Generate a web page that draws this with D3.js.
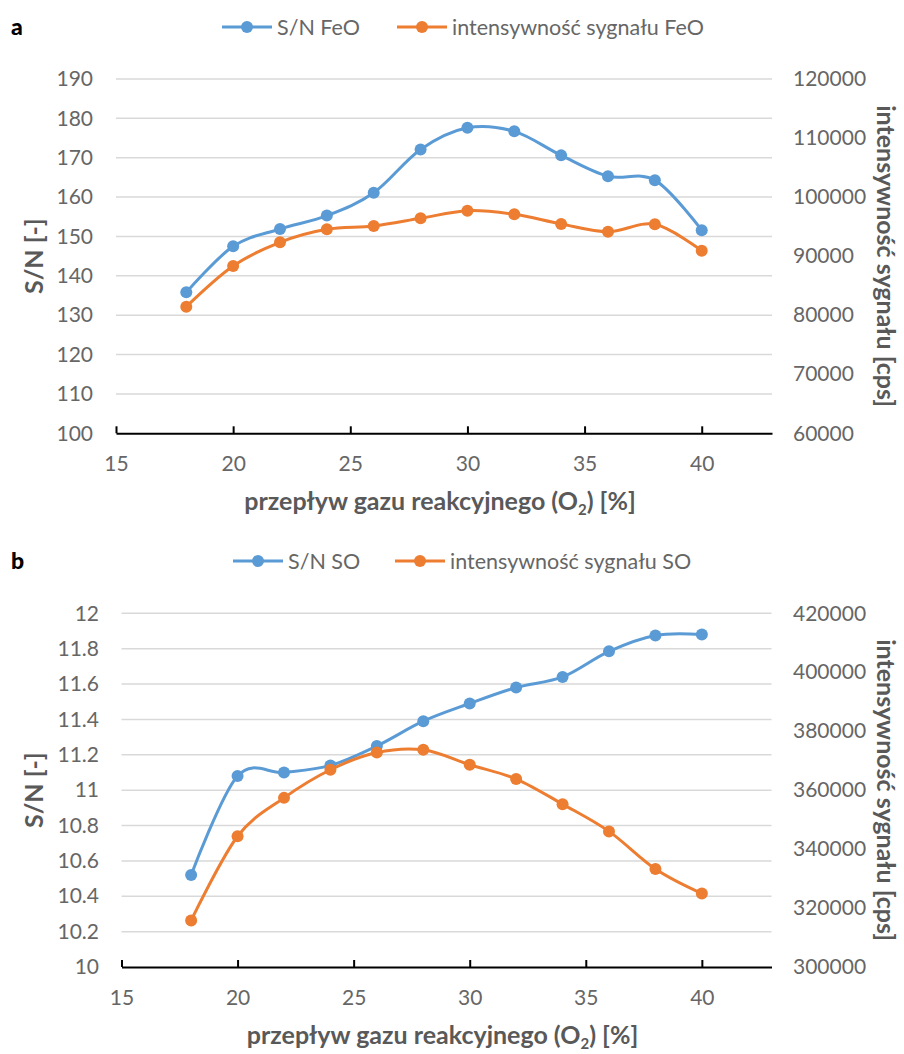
<!DOCTYPE html>
<html>
<head>
<meta charset="utf-8">
<script src="https://cdn.jsdelivr.net/npm/d3@7"></script>
<style>
  html, body { margin: 0; padding: 0; background: #fff; }
  svg { display: block; font-family: Lato, "Liberation Sans", sans-serif; }
</style>
</head>
<body>
<svg id="chart" width="904" height="1054"></svg>
<script>
// ---- data ----
const o2Flow = [18, 20, 22, 24, 26, 28, 30, 32, 34, 36, 38, 40];

const snFeO  = [135.8, 147.5, 151.9, 155.3, 161.1, 172.1, 177.6, 176.7, 170.6, 165.3, 164.3, 151.6];
const intFeO = [81440, 88330, 92350, 94550, 95110, 96410, 97700, 97090, 95450, 94140, 95390, 90930];

const snSO  = [10.52, 11.08, 11.10, 11.14, 11.25, 11.39, 11.49, 11.58, 11.64, 11.785, 11.875, 11.88];
const intSO = [315800, 344350, 357380, 366920, 372770, 373680, 368610, 363770, 355250, 346010, 333220, 324900];

const xTicks = [15, 20, 25, 30, 35, 40];
const leftTicksA  = [100, 110, 120, 130, 140, 150, 160, 170, 180, 190];
const rightTicksA = [60000, 70000, 80000, 90000, 100000, 110000, 120000];
const leftTicksB  = [10, 10.2, 10.4, 10.6, 10.8, 11, 11.2, 11.4, 11.6, 11.8, 12];
const rightTicksB = [300000, 320000, 340000, 360000, 380000, 400000, 420000];

const legendA = ["S/N FeO", "intensywność sygnału FeO"];
const legendB = ["S/N SO", "intensywność sygnału SO"];

const xTitle = "przepływ gazu reakcyjnego";
const leftTitle = "S/N [-]";
const rightTitle = "intensywność sygnału [cps]";

const BLUE = "#5B9BD5", ORANGE = "#ED7D31", GRID = "#D9D9D9", TXT = "#595959", TICK = "#666666";

const svg = d3.select("#chart");

function panel(cfg) {
  const g = svg.append("g");
  const x = d3.scaleLinear().domain([15, 43]).range([cfg.x0, cfg.x1]);
  const yL = d3.scaleLinear().domain([cfg.leftTicks[0], cfg.leftTicks[cfg.leftTicks.length-1]]).range([cfg.yBot, cfg.yTop]);
  const yR = d3.scaleLinear().domain([cfg.rightTicks[0], cfg.rightTicks[cfg.rightTicks.length-1]]).range([cfg.yBot, cfg.yTop]);

  // gridlines
  g.append("g").selectAll("line").data(cfg.leftTicks.slice(1)).join("line")
    .attr("x1", cfg.x0).attr("x2", cfg.x1)
    .attr("y1", d => yL(d)).attr("y2", d => yL(d))
    .attr("stroke", GRID).attr("stroke-width", 1.5);

  // left axis labels
  const la = g.append("g").attr("transform", `translate(${cfg.leftLabelX},0)`)
    .call(d3.axisLeft(yL).tickValues(cfg.leftTicks).tickSize(0).tickPadding(0).tickFormat(d => String(d)));
  la.select(".domain").remove();
  la.selectAll("text").attr("fill", TICK).attr("font-size", 21).attr("font-family", "Lato");

  // right axis labels
  const ra = g.append("g").attr("transform", `translate(${cfg.rightLabelX},0)`)
    .call(d3.axisRight(yR).tickValues(cfg.rightTicks).tickSize(0).tickPadding(0).tickFormat(d => String(d)));
  ra.select(".domain").remove();
  ra.selectAll("text").attr("fill", TICK).attr("font-size", 21).attr("font-family", "Lato");

  // x axis
  const xa = g.append("g").attr("transform", `translate(0,${cfg.yBot})`)
    .call(d3.axisBottom(x).tickValues(xTicks).tickSize(-7).tickSizeOuter(0).tickPadding(0).tickFormat(d => String(d)));
  xa.select(".domain").attr("stroke", "#000").attr("stroke-width", 2);
  xa.selectAll(".tick line").attr("stroke", "#000").attr("stroke-width", 2);
  xa.selectAll("text").attr("fill", TICK).attr("font-size", 21).attr("font-family", "Lato")
    .attr("y", 38).attr("dy", 0);

  // series
  const line = d3.line().curve(d3.curveCardinal.tension(0));
  const seriesList = [
    {vals: cfg.left, scale: yL, color: BLUE},
    {vals: cfg.right, scale: yR, color: ORANGE}
  ];
  seriesList.forEach(s => {
    const pts = o2Flow.map((v, i) => [x(v), s.scale(s.vals[i])]);
    g.append("path").attr("d", line(pts)).attr("fill", "none")
      .attr("stroke", s.color).attr("stroke-width", 3).attr("stroke-linejoin", "round");
    g.append("g").selectAll("circle").data(pts).join("circle")
      .attr("cx", d => d[0]).attr("cy", d => d[1]).attr("r", 6).attr("fill", s.color);
  });

  // x title
  const mid = (cfg.x0 + cfg.x1) / 2 - 4;
  const t = g.append("text").attr("x", mid).attr("y", cfg.yBot + 77)
    .attr("text-anchor", "middle").attr("font-size", 25).attr("font-weight", "bold").attr("fill", TXT);
  t.append("tspan").text(xTitle + " (O");
  t.append("tspan").text("2").attr("font-size", 15).attr("dy", 5);
  t.append("tspan").text(") [%]").attr("dy", -5);

  // left title
  const yMid = (cfg.yTop + cfg.yBot) / 2;
  g.append("text").attr("transform", `translate(${cfg.leftTitleX},${yMid}) rotate(-90)`)
    .attr("text-anchor", "middle").attr("font-size", 25).attr("font-weight", "bold").attr("fill", TXT)
    .text(leftTitle);
  // right title
  g.append("text").attr("transform", `translate(${cfg.rightTitleX},${yMid}) rotate(90)`)
    .attr("text-anchor", "middle").attr("font-size", 25).attr("font-weight", "bold").attr("fill", TXT)
    .text(rightTitle);

  // panel letter
  g.append("text").attr("x", 11).attr("y", cfg.legendY + 8).attr("font-size", 23)
    .attr("font-weight", "900").attr("fill", "#000").text(cfg.letter);

  // legend
  const cols = [BLUE, ORANGE];
  cfg.legend.forEach((name, i) => {
    const lx = cfg.legendX[i];
    const lg = g.append("g").attr("transform", `translate(${lx},${cfg.legendY})`);
    lg.append("line").attr("x1", 0).attr("x2", 50).attr("y1", 0).attr("y2", 0)
      .attr("stroke", cols[i]).attr("stroke-width", 3);
    lg.append("circle").attr("cx", 25).attr("cy", 0).attr("r", 6).attr("fill", cols[i]);
    lg.append("text").attr("x", 55).attr("y", 8).attr("font-size", 21.5).attr("fill", TICK).text(name);
  });
}

panel({
  letter: "a", x0: 116, x1: 772, yTop: 79, yBot: 433.3,
  leftTicks: leftTicksA, rightTicks: rightTicksA, left: snFeO, right: intFeO,
  leftLabelX: 93, rightLabelX: 793, leftTitleX: 43, rightTitleX: 877,
  legend: legendA, legendX: [222, 397], legendY: 27
});
panel({
  letter: "b", x0: 121.5, x1: 771.5, yTop: 613.3, yBot: 967,
  leftTicks: leftTicksB, rightTicks: rightTicksB, left: snSO, right: intSO,
  leftLabelX: 99, rightLabelX: 793, leftTitleX: 43, rightTitleX: 877,
  legend: legendB, legendX: [233, 395], legendY: 561
});
</script>
</body>
</html>
